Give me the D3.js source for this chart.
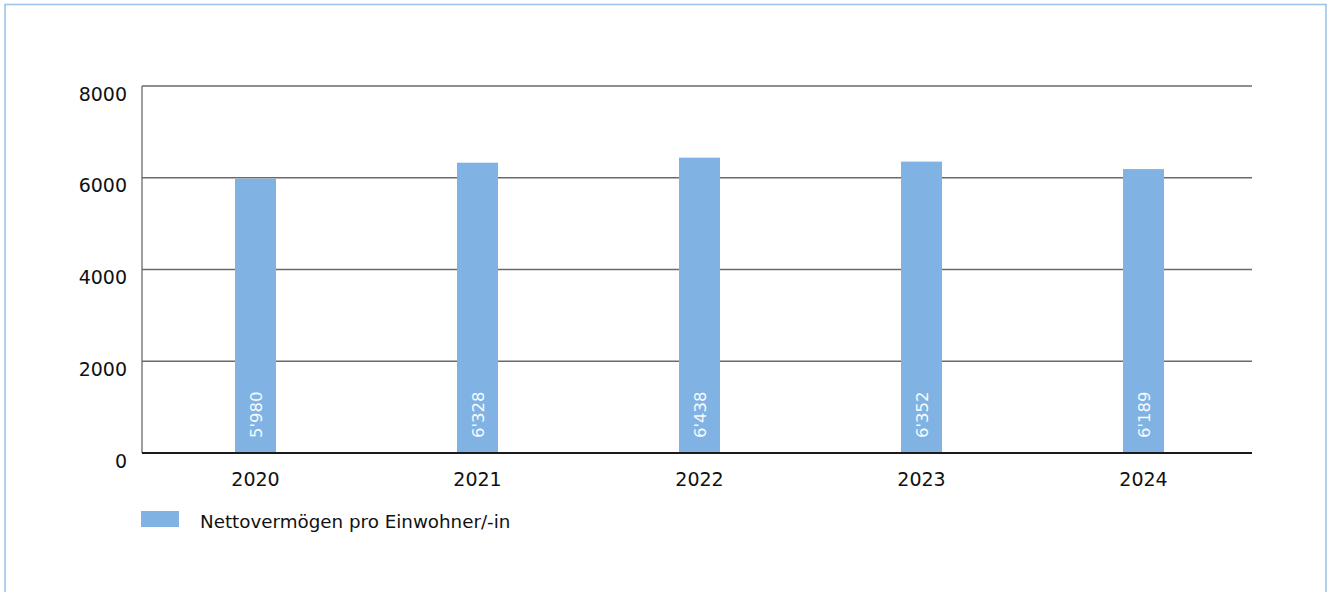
<!DOCTYPE html>
<html>
<head>
<meta charset="utf-8">
<script src="https://cdn.jsdelivr.net/npm/d3@7"></script>
<style>
  body { margin: 0; background: #fff; }
  svg { display: block; font-family: "DejaVu Sans", sans-serif; }
</style>
</head>
<body>
<div id="grafico"></div>
<script>
// Daten
const jahre = ["2020", "2021", "2022", "2023", "2024"];
const vermoegen = [5980, 6328, 6438, 6352, 6189];
const yTicks = [0, 2000, 4000, 6000, 8000];
const serieName = "Nettovermögen pro Einwohner/-in";

const W = 1335, H = 592;
const margin = { top: 86, right: 83, bottom: 139, left: 142 };
const width = W - margin.left - margin.right;
const height = H - margin.top - margin.bottom;

const svg = d3.select("#grafico")
  .append("svg")
    .attr("width", W)
    .attr("height", H);

// Rahmen
svg.append("rect")
  .attr("x", 5).attr("y", 4.5)
  .attr("width", 1321).attr("height", 620)
  .attr("fill", "none")
  .attr("stroke", "#9fc4ea")
  .attr("stroke-width", 1.6);

const g = svg.append("g")
  .attr("transform", "translate(" + margin.left + "," + margin.top + ")");

const x = d3.scaleBand()
  .range([2.5, width + 2.5])
  .domain(jahre)
  .paddingInner(0)
  .paddingOuter(0);

const y = d3.scaleLinear()
  .domain([0, 8000])
  .range([height, 0]);

const barW = 41;

// Gitterlinien
g.selectAll("line.grid")
  .data(yTicks.filter(d => d > 0))
  .enter()
  .append("line")
    .attr("class", "grid")
    .attr("x1", 0).attr("x2", width)
    .attr("y1", d => y(d)).attr("y2", d => y(d))
    .attr("stroke", "#6a6a6a")
    .attr("stroke-width", 1.3);

// y-Achse (Linie)
g.append("line")
  .attr("x1", 0).attr("x2", 0)
  .attr("y1", 0).attr("y2", height)
  .attr("stroke", "#6a6a6a")
  .attr("stroke-width", 1.3);

// y-Beschriftung
g.selectAll("text.ytick")
  .data(yTicks)
  .enter()
  .append("text")
    .attr("class", "ytick")
    .attr("x", -15)
    .attr("y", d => y(d) + 14.5)
    .attr("text-anchor", "end")
    .attr("font-size", "19px")
    .attr("fill", "#111")
    .text(d => d);

// Balken
g.selectAll("rect.bar")
  .data(vermoegen)
  .enter()
  .append("rect")
    .attr("class", "bar")
    .attr("x", (d, i) => x(jahre[i]) + x.bandwidth() / 2 - barW / 2)
    .attr("width", barW)
    .attr("y", d => y(d))
    .attr("height", d => height - y(d))
    .attr("fill", "#80b3e3");

// Werte in den Balken
const fmt = v => d3.format(",")(v).replace(",", "'");
g.selectAll("text.val")
  .data(vermoegen)
  .enter()
  .append("text")
    .attr("class", "val")
    .attr("transform", (d, i) => "translate(" + (x(jahre[i]) + x.bandwidth() / 2 + 6.5) + "," + (height - 15) + ") rotate(-90)")
    .attr("text-anchor", "start")
    .attr("font-size", "16.5px")
    .attr("fill", "#f7faff")
    .text(d => fmt(d));

// x-Achse
g.append("line")
  .attr("x1", 0).attr("x2", width)
  .attr("y1", height).attr("y2", height)
  .attr("stroke", "#1a1a1a")
  .attr("stroke-width", 2);

g.selectAll("text.xtick")
  .data(jahre)
  .enter()
  .append("text")
    .attr("class", "xtick")
    .attr("x", d => x(d) + x.bandwidth() / 2)
    .attr("y", height + 32.5)
    .attr("text-anchor", "middle")
    .attr("font-size", "19px")
    .attr("fill", "#111")
    .text(d => d);

// Legende
svg.append("rect")
  .attr("x", 141).attr("y", 511)
  .attr("width", 38).attr("height", 16)
  .attr("fill", "#80b3e3");

svg.append("text")
  .attr("x", 200).attr("y", 527.5)
  .attr("font-size", "18.3px")
  .attr("fill", "#111")
  .text(serieName);
</script>
</body>
</html>
